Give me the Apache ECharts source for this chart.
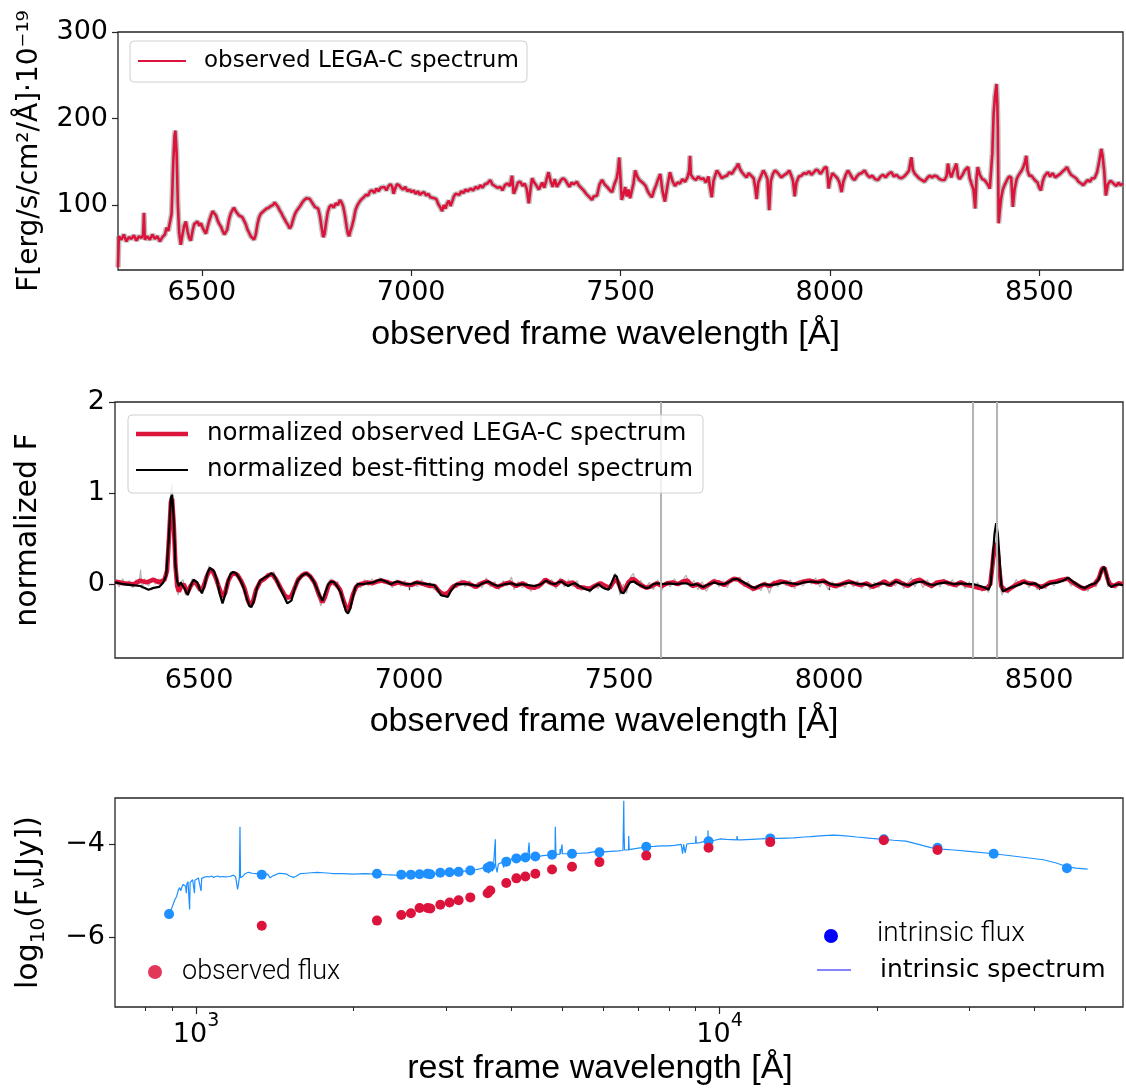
<!DOCTYPE html>
<html><head><meta charset="utf-8">
<script src="https://cdn.jsdelivr.net/npm/echarts@6/dist/echarts.min.js"></script>
<style>html,body{margin:0;padding:0;background:#fff}#c{width:1126px;height:1092px}</style>
</head><body><div id="c"></div>
<script>
// ---------- Panel 1: observed spectrum [wavelength Å, flux 1e-19 erg/s/cm2/Å] ----------
const obsSpectrum = [[6300,28],[6302,64],[6308,60],[6314,66],[6320,58],[6326,63],[6332,61],[6338,65],[6344,59],[6350,64],[6356,62],[6360,66],[6362,91],[6364,60],[6370,64],[6376,60],[6382,66],[6388,61],[6394,64],[6400,58],[6406,63],[6412,66],[6416,74],[6420,70],[6424,72],
[6428,90],[6432,150],[6435,180],[6437,186],[6440,160],[6443,100],[6446,68],[6450,54],[6454,66],[6458,76],[6462,81],[6466,70],[6470,62],[6474,59],[6478,70],[6482,78],[6486,76],[6490,81],[6494,76],[6498,79],[6502,74],[6506,70],[6510,67],[6514,75],[6518,82],[6522,88],[6526,93],[6530,95],[6534,88],[6538,82],[6542,78],[6546,75],[6550,70],[6554,66],[6557,64],[6561,72],[6565,83],[6569,90],[6573,94],[6577,97],[6581,93],[6585,91],[6589,88],[6593,90],[6597,86],[6601,82],[6605,78],[6609,72],[6613,68],[6617,64],[6621,62],[6625,60],[6629,66],[6633,78],[6637,86],[6641,90],[6645,92],[6650,94],[6655,96],[6660,97],[6665,99],[6670,100],[6674,103],[6678,101],[6682,98],[6686,94],[6690,91],[6694,87],[6698,85],[6702,80],[6706,77],[6710,73],[6714,76],[6718,83],[6722,89],[6726,93],[6730,95],[6735,99],[6740,103],[6745,106],[6750,108],[6754,106],[6758,107],[6762,104],[6766,101],[6770,98],[6774,100],[6778,96],[6782,88],[6786,75],[6790,63],[6793,66],[6797,80],[6801,92],[6805,98],[6810,100],[6815,97],[6820,102],[6825,100],[6830,106],[6834,103],[6838,98],[6842,88],[6846,75],[6849,67],[6852,64],[6855,70],[6859,76],[6863,84],[6867,94],[6872,100],[6877,104],[6882,107],[6887,109],[6892,112],[6897,111],[6902,116],[6907,117],[6912,114],[6917,119],[6922,116],[6927,120],[6931,119],[6936,121],[6941,117],[6946,122],[6951,124],[6955,121],[6958,113],[6961,118],[6966,124],[6971,123],[6976,120],[6981,118],[6986,121],[6991,116],[6996,118],[7001,115],[7006,117],[7011,113],[7016,116],[7021,112],[7026,114],[7031,115],[7036,111],[7041,113],[7046,109],[7050,111],[7055,108],[7060,107],[7065,101],[7070,97],[7074,93],[7078,100],[7082,96],[7086,102],[7090,105],[7094,99],[7098,104],[7102,110],[7106,113],[7110,115],[7115,112],[7120,116],[7125,114],[7130,118],[7135,116],[7142,119],[7148,117],[7154,121],[7160,119],[7165,123],[7170,120],[7176,124],[7182,125],[7189,129],[7194,124],[7200,122],[7206,120],[7213,121],[7218,117],[7224,123],[7230,125],[7236,122],[7241,134],[7245,113],[7250,119],[7255,126],[7261,127],[7266,122],[7271,125],[7276,119],[7281,102],[7285,118],[7289,131],[7294,126],[7300,122],[7305,118],[7308,121],[7313,126],[7318,120],[7323,129],[7328,138],[7333,128],[7338,121],[7343,130],[7348,121],[7353,125],[7358,129],[7363,131],[7368,129],[7373,125],[7378,121],[7383,126],[7388,124],[7396,127],[7400,123],[7406,120],[7412,117],[7418,113],[7424,110],[7428,108],[7432,106],[7436,110],[7440,109],[7444,111],[7450,124],[7456,129],[7462,124],[7468,121],[7475,117],[7480,115],[7486,125],[7491,131],[7494,140],[7497,155],[7500,130],[7503,106],[7507,112],[7511,121],[7515,110],[7519,118],[7523,108],[7527,106],[7531,125],[7535,140],[7540,133],[7545,129],[7550,127],[7555,125],[7560,122],[7565,116],[7570,112],[7575,109],[7580,117],[7585,123],[7590,130],[7595,136],[7600,117],[7606,104],[7612,122],[7618,138],[7624,128],[7630,122],[7636,126],[7642,125],[7648,130],[7654,127],[7660,132],[7664,140],[7666,157],[7668,135],[7674,131],[7680,129],[7686,133],[7692,130],[7698,131],[7704,126],[7710,133],[7714,120],[7718,109],[7722,128],[7726,134],[7730,140],[7736,136],[7742,131],[7748,133],[7754,134],[7760,138],[7766,136],[7772,141],[7777,144],[7781,148],[7785,142],[7790,138],[7795,135],[7801,132],[7806,137],[7812,134],[7818,131],[7822,120],[7825,107],[7829,126],[7835,133],[7841,140],[7846,136],[7851,130],[7855,94],[7859,128],[7864,136],[7869,140],[7874,138],[7879,135],[7884,132],[7889,134],[7893,132],[7898,137],[7903,140],[7908,134],[7912,128],[7916,110],[7920,126],[7926,133],[7932,134],[7938,137],[7944,136],[7950,139],[7956,135],[7962,138],[7967,141],[7972,140],[7977,136],[7982,139],[7987,143],[7992,144],[7995,132],[7997,119],[8000,128],[8006,137],[8012,134],[8018,131],[8023,126],[8028,115],[8032,127],[8038,135],[8043,140],[8048,136],[8054,131],[8059,129],[8064,133],[8070,136],[8076,137],[8083,140],[8089,135],[8095,132],[8101,134],[8108,130],[8115,129],[8121,133],[8127,135],[8133,132],[8140,136],[8147,138],[8153,133],[8159,135],[8165,132],[8171,131],[8177,133],[8183,136],[8189,140],[8193,152],[8195,155],[8198,141],[8203,136],[8207,134],[8213,131],[8219,129],[8226,127],[8232,131],[8238,134],[8244,132],[8250,134],[8256,133],[8262,130],[8268,129],[8274,129],[8279,134],[8282,148],[8286,137],[8290,132],[8294,138],[8298,140],[8302,148],[8306,133],[8310,130],[8314,129],[8318,136],[8322,140],[8326,138],[8330,144],[8334,131],[8338,125],[8343,118],[8347,96],[8350,130],[8353,144],[8358,135],[8364,130],[8369,129],[8374,126],[8378,123],[8382,119],[8385,121],[8388,160],[8391,205],[8394,225],[8398,240],[8400,215],[8401,190],[8403,79],[8406,95],[8409,108],[8413,118],[8418,124],[8423,129],[8428,133],[8433,132],[8437,98],[8441,118],[8446,130],[8450,134],[8453,136],[8458,140],[8462,144],[8466,150],[8469,157],[8472,140],[8476,134],[8481,134],[8486,131],[8491,128],[8496,126],[8500,120],[8504,117],[8508,127],[8512,133],[8516,135],[8520,138],[8526,133],[8532,137],[8538,132],[8544,134],[8550,136],[8556,139],[8561,141],[8566,144],[8571,139],[8576,135],[8582,133],[8588,131],[8594,127],[8600,125],[8605,123],[8610,126],[8616,129],[8621,127],[8626,131],[8632,131],[8638,138],[8643,150],[8648,165],[8651,158],[8655,140],[8659,111],[8664,124],[8670,128],[8675,126],[8679,127],[8684,122],[8689,126],[8694,123],[8700,125]];

// ---------- Panel 2: normalized spectra ----------
const normModel = [[6300,0.02],[6320,0.0],[6340,-0.01],[6360,-0.02],[6380,-0.06],[6392,-0.04],[6405,-0.03],[6415,0.02],[6422,0.1],[6428,0.5],[6433,0.95],[6436,0.98],[6440,0.7],[6444,0.2],[6448,0.03],[6452,-0.02],[6456,0.02],[6460,0.03],[6466,-0.05],[6473,-0.12],[6480,-0.02],[6487,0.05],[6491,0.07],[6496,0.02],[6502,-0.06],[6507,-0.1],[6513,-0.02],[6520,0.12],[6526,0.18],[6530,0.19],[6536,0.14],[6543,0.04],[6549,-0.1],[6556,-0.21],[6562,-0.12],[6568,0.02],[6575,0.11],[6581,0.135],[6588,0.12],[6594,0.08],[6600,0.03],[6607,-0.05],[6614,-0.16],[6620,-0.24],[6625,-0.25],[6631,-0.18],[6638,-0.04],[6646,0.04],[6655,0.07],[6664,0.09],[6672,0.12],[6678,0.1],[6685,0.04],[6694,-0.05],[6702,-0.13],[6710,-0.21],[6714,-0.23],[6720,-0.18],[6727,-0.06],[6734,0.03],[6742,0.08],[6750,0.11],[6756,0.12],[6764,0.09],[6772,0.04],[6780,-0.04],[6788,-0.13],[6794,-0.18],[6800,-0.1],[6808,0.0],[6814,0.03],[6822,0.02],[6830,-0.03],[6838,-0.1],[6845,-0.22],[6850,-0.3],[6855,-0.32],[6860,-0.27],[6866,-0.15],[6872,-0.04],[6878,0.0],[6890,0.0],[6901,0.01],[6915,0.02],[6925,0.04],[6933,0.05],[6945,0.03],[6957,0.0],[6965,0.02],[6973,0.03],[6985,0.01],[6995,0.0],[7005,0.0],[7017,0.02],[7029,0.01],[7045,0.0],[7060,-0.01],[7068,-0.06],[7076,-0.12],[7084,-0.13],[7092,-0.14],[7100,-0.07],[7112,0.0],[7126,0.0],[7140,0.0],[7152,-0.01],[7164,-0.02],[7176,0.01],[7188,0.03],[7200,0.0],[7212,-0.02],[7228,0.0],[7244,0.01],[7256,-0.01],[7268,0.0],[7284,-0.01],[7300,-0.02],[7314,0.0],[7327,0.04],[7337,0.01],[7347,0.0],[7355,0.02],[7363,0.03],[7371,0.0],[7379,-0.02],[7387,0.0],[7395,0.01],[7405,-0.02],[7418,-0.05],[7431,-0.07],[7440,-0.03],[7451,0.0],[7459,-0.03],[7467,-0.05],[7475,-0.06],[7483,0.02],[7490,0.1],[7495,0.08],[7500,-0.02],[7505,-0.09],[7511,-0.1],[7518,-0.04],[7526,0.02],[7535,0.03],[7545,0.0],[7555,-0.02],[7563,-0.04],[7571,-0.04],[7581,0.0],[7591,0.01],[7605,0.0],[7620,0.01],[7635,0.0],[7650,0.01],[7660,0.01],[7672,-0.01],[7685,0.0],[7700,-0.03],[7714,0.0],[7728,0.02],[7738,0.0],[7749,0.0],[7760,0.02],[7770,0.05],[7781,0.06],[7793,0.03],[7805,0.0],[7815,-0.03],[7825,-0.04],[7835,-0.01],[7845,0.0],[7860,-0.01],[7877,0.0],[7893,0.02],[7910,0.01],[7925,0.0],[7940,0.02],[7958,0.03],[7974,0.02],[7990,0.03],[8005,0.0],[8022,-0.01],[8038,0.01],[8055,0.02],[8070,0.0],[8087,0.0],[8100,-0.02],[8112,0.0],[8127,0.01],[8143,-0.01],[8159,0.03],[8175,0.0],[8192,-0.01],[8208,0.02],[8224,0.03],[8236,0.0],[8248,-0.01],[8264,0.01],[8280,0.02],[8296,0.0],[8313,0.01],[8330,0.0],[8345,0.0],[8360,-0.02],[8372,-0.04],[8380,-0.06],[8385,0.0],[8390,0.3],[8394,0.55],[8398,0.67],[8402,0.55],[8406,0.3],[8410,0.0],[8414,-0.08],[8418,-0.1],[8426,-0.05],[8437,-0.03],[8450,-0.01],[8465,0.02],[8478,0.0],[8490,0.01],[8500,-0.02],[8506,-0.04],[8516,-0.01],[8530,0.01],[8545,0.02],[8558,0.04],[8570,0.07],[8580,0.03],[8590,0.0],[8600,-0.03],[8610,-0.04],[8620,-0.01],[8634,0.01],[8642,0.05],[8649,0.15],[8655,0.19],[8661,0.1],[8666,0.0],[8672,-0.03],[8680,-0.01],[8690,0.0],[8700,-0.01]];

const normObs = [[6300,0.03],[6320,0.01],[6345,0.0],[6360,0.04],[6375,0.02],[6392,0.05],[6405,0.02],[6418,0.05],[6424,0.15],[6429,0.55],[6433,0.9],[6436,0.94],[6440,0.65],[6444,0.2],[6448,-0.02],[6452,-0.08],[6458,-0.02],[6464,0.0],[6472,-0.1],[6480,-0.02],[6488,0.03],[6495,0.0],[6503,-0.06],[6510,-0.04],[6518,0.08],[6526,0.16],[6532,0.15],[6540,0.07],[6548,-0.04],[6556,-0.14],[6562,-0.1],[6570,0.04],[6578,0.11],[6584,0.12],[6592,0.1],[6600,0.04],[6608,-0.04],[6616,-0.17],[6622,-0.23],[6628,-0.2],[6636,-0.06],[6646,0.03],[6656,0.06],[6666,0.1],[6674,0.11],[6684,0.05],[6694,-0.04],[6704,-0.12],[6712,-0.15],[6720,-0.13],[6728,-0.04],[6736,0.05],[6746,0.1],[6756,0.12],[6766,0.08],[6776,0.01],[6786,-0.12],[6794,-0.2],[6800,-0.14],[6808,-0.02],[6816,0.03],[6826,0.0],[6836,-0.06],[6844,-0.18],[6852,-0.28],[6858,-0.26],[6866,-0.12],[6874,-0.03],[6884,0.0],[6900,0.02],[6912,0.01],[6924,0.03],[6936,0.04],[6950,0.02],[6962,0.0],[6975,0.02],[6990,0.0],[7005,-0.01],[7020,0.02],[7035,0.0],[7050,-0.02],[7062,-0.02],[7070,-0.07],[7078,-0.1],[7086,-0.11],[7094,-0.09],[7104,-0.03],[7116,0.0],[7130,0.02],[7145,0.0],[7160,-0.03],[7172,0.01],[7185,0.03],[7198,0.0],[7210,-0.03],[7225,0.0],[7240,0.02],[7255,-0.02],[7270,0.01],[7285,-0.03],[7298,-0.04],[7312,-0.01],[7325,0.05],[7335,0.02],[7350,-0.01],[7362,0.04],[7375,0.0],[7390,0.02],[7402,-0.03],[7418,-0.04],[7430,-0.05],[7442,-0.02],[7455,0.01],[7468,-0.02],[7478,-0.04],[7486,0.02],[7492,0.06],[7498,0.02],[7506,-0.07],[7514,-0.06],[7522,0.02],[7532,0.06],[7540,0.04],[7552,-0.01],[7565,-0.04],[7578,-0.02],[7590,0.01],[7602,-0.02],[7615,0.01],[7628,0.02],[7640,0.0],[7652,0.03],[7663,0.04],[7675,-0.02],[7688,0.0],[7700,-0.04],[7712,-0.01],[7725,0.03],[7738,0.02],[7750,-0.01],[7762,0.03],[7774,0.06],[7784,0.05],[7796,0.01],[7808,-0.02],[7820,-0.05],[7832,-0.03],[7845,0.0],[7858,-0.02],[7870,0.01],[7884,0.03],[7898,0.02],[7912,-0.01],[7926,0.01],[7940,0.03],[7955,0.04],[7970,0.02],[7985,0.04],[8000,0.0],[8014,-0.02],[8030,0.0],[8046,0.03],[8060,0.01],[8075,-0.01],[8090,0.01],[8104,-0.03],[8118,0.0],[8132,0.03],[8146,-0.01],[8160,0.04],[8174,0.01],[8188,-0.02],[8202,0.03],[8216,0.05],[8230,0.01],[8244,-0.02],[8258,0.02],[8272,0.03],[8286,0.01],[8300,-0.01],[8314,0.02],[8328,-0.01],[8342,-0.02],[8356,-0.04],[8368,-0.05],[8377,-0.04],[8384,0.0],[8389,0.2],[8393,0.38],[8397,0.45],[8401,0.38],[8405,0.18],[8410,-0.02],[8416,-0.06],[8424,-0.07],[8434,-0.04],[8448,0.0],[8462,0.03],[8476,0.01],[8490,0.0],[8502,-0.03],[8512,-0.02],[8526,0.02],[8540,0.03],[8556,0.05],[8568,0.06],[8580,0.02],[8594,-0.02],[8606,-0.05],[8618,-0.03],[8632,0.0],[8642,0.06],[8650,0.17],[8656,0.18],[8662,0.08],[8668,0.0],[8678,-0.02],[8690,0.01],[8700,0.0]];

const normRaw = [[6300,0.05],[6310,-0.03],[6318,0.06],[6326,-0.01],[6334,0.04],[6342,-0.04],[6350,0.05],[6357,0.0],[6361,0.16],[6364,-0.05],[6371,0.06],[6380,-0.02],[6388,0.07],[6396,0.0],[6404,0.06],[6412,-0.01],[6420,0.12],[6426,0.4],[6431,0.9],[6435,1.1],[6438,0.95],[6442,0.45],[6446,0.05],[6450,-0.12],[6456,0.02],[6462,0.05],[6468,-0.12],[6476,-0.04],[6484,0.06],[6492,-0.02],[6500,-0.08],[6508,0.0],[6516,0.05],[6524,0.2],[6530,0.13],[6538,0.09],[6546,-0.08],[6554,-0.17],[6560,-0.06],[6568,0.06],[6576,0.14],[6583,0.09],[6590,0.13],[6598,0.02],[6606,-0.02],[6614,-0.2],[6622,-0.26],[6630,-0.15],[6638,-0.02],[6646,0.06],[6654,0.03],[6662,0.12],[6670,0.08],[6678,0.14],[6686,0.02],[6694,-0.07],[6702,-0.1],[6710,-0.18],[6718,-0.1],[6726,-0.07],[6734,0.08],[6742,0.06],[6750,0.14],[6758,0.1],[6766,0.11],[6774,-0.02],[6782,-0.1],[6790,-0.24],[6798,-0.11],[6806,0.01],[6814,0.06],[6822,-0.02],[6830,0.03],[6838,-0.1],[6846,-0.22],[6852,-0.32],[6860,-0.22],[6868,-0.08],[6876,0.02],[6885,-0.04],[6894,0.05],[6903,-0.02],[6912,0.06],[6921,0.0],[6930,0.07],[6940,0.01],[6950,0.05],[6960,-0.04],[6970,0.05],[6980,-0.02],[6990,0.04],[7000,-0.04],[7010,0.03],[7020,-0.03],[7030,0.05],[7040,-0.03],[7050,0.02],[7060,-0.06],[7070,-0.04],[7080,-0.14],[7088,-0.08],[7096,-0.13],[7104,0.0],[7114,-0.04],[7124,0.05],[7134,-0.03],[7144,0.04],[7154,-0.05],[7164,0.02],[7174,-0.04],[7184,0.07],[7194,-0.03],[7204,0.03],[7214,-0.06],[7224,0.04],[7234,-0.02],[7244,0.08],[7250,-0.06],[7260,0.03],[7270,-0.04],[7280,0.02],[7290,-0.08],[7300,0.0],[7310,-0.05],[7320,0.06],[7330,0.0],[7340,0.05],[7350,-0.05],[7360,0.07],[7370,-0.03],[7380,0.05],[7390,-0.03],[7400,0.04],[7410,-0.07],[7420,-0.02],[7430,-0.09],[7440,0.0],[7450,-0.05],[7460,0.03],[7470,-0.06],[7480,-0.01],[7490,0.12],[7496,0.08],[7502,-0.12],[7510,0.0],[7518,-0.1],[7526,0.07],[7534,0.12],[7542,0.0],[7552,0.04],[7562,-0.05],[7572,0.02],[7582,-0.06],[7592,0.05],[7602,-0.07],[7612,0.03],[7622,-0.03],[7632,0.06],[7642,-0.02],[7652,0.05],[7660,0.1],[7668,-0.03],[7678,0.04],[7688,-0.06],[7698,0.03],[7708,-0.08],[7718,0.02],[7728,0.06],[7738,-0.03],[7748,0.04],[7758,-0.04],[7768,0.07],[7778,0.03],[7788,0.08],[7798,-0.03],[7808,0.03],[7818,-0.08],[7828,-0.02],[7838,-0.07],[7848,0.03],[7858,-0.1],[7868,0.04],[7878,-0.03],[7888,0.05],[7898,-0.02],[7908,0.05],[7918,-0.05],[7928,0.04],[7938,-0.02],[7948,0.06],[7958,0.0],[7968,0.07],[7978,-0.03],[7988,0.06],[7998,-0.06],[8008,0.03],[8018,-0.05],[8028,0.02],[8038,-0.04],[8048,0.05],[8058,-0.03],[8068,0.04],[8078,-0.05],[8088,0.03],[8098,-0.06],[8108,0.02],[8118,-0.04],[8128,0.05],[8138,-0.03],[8148,0.04],[8158,-0.02],[8168,0.06],[8178,-0.05],[8188,0.02],[8196,0.07],[8204,-0.03],[8214,0.06],[8224,-0.04],[8234,0.05],[8244,-0.05],[8254,0.04],[8264,-0.03],[8274,0.06],[8284,-0.02],[8294,0.05],[8304,-0.04],[8314,0.04],[8324,-0.05],[8334,0.03],[8344,-0.06],[8354,0.02],[8364,-0.08],[8372,-0.02],[8380,-0.09],[8386,0.1],[8391,0.35],[8396,0.48],[8401,0.3],[8406,0.0],[8412,-0.12],[8418,-0.02],[8426,-0.1],[8436,-0.03],[8446,0.05],[8456,-0.02],[8466,0.06],[8476,-0.04],[8486,0.03],[8496,-0.06],[8506,0.0],[8516,-0.05],[8526,0.04],[8536,-0.02],[8546,0.06],[8556,0.02],[8566,0.08],[8576,-0.02],[8586,0.03],[8596,-0.05],[8606,-0.02],[8616,-0.08],[8626,0.02],[8636,-0.03],[8644,0.08],[8650,0.2],[8656,0.15],[8664,-0.03],[8672,0.03],[8682,-0.05],[8692,0.02],[8700,-0.02]];

const telluricLines = [7600, 8343, 8400];

// ---------- Panel 3: SED [rest wavelength Å, log10 F_nu (Jy)] ----------
const intrinsicSpectrum = [[888,-5.5],[900,-5.35],[910,-5.2],[918,-5.12],[925,-4.98],[930,-4.93],[935,-5.0],[939,-4.92],[945,-4.86],[950,-4.85],[955,-4.9],[958,-5.05],[960,-4.85],[965,-4.8],[970,-4.83],[972,-5.4],[974,-4.82],[980,-4.8],[985,-4.76],[990,-4.79],[993,-5.05],[995,-4.77],[1000,-4.74],[1010,-4.72],[1018,-4.72],[1022,-5.0],[1025,-4.73],[1035,-4.71],[1048,-4.69],[1060,-4.7],[1070,-4.68],[1080,-4.71],[1090,-4.69],[1100,-4.68],[1110,-4.7],[1128,-4.69],[1140,-4.7],[1150,-4.67],[1160,-4.69],[1170,-4.66],[1179,-4.66],[1190,-4.7],[1196,-4.85],[1200,-4.97],[1205,-4.86],[1210,-4.7],[1213,-3.62],[1216,-4.72],[1222,-4.74],[1230,-4.68],[1240,-4.63],[1259,-4.6],[1280,-4.62],[1300,-4.63],[1320,-4.62],[1335,-4.65],[1350,-4.66],[1370,-4.64],[1385,-4.72],[1391,-4.76],[1400,-4.68],[1420,-4.65],[1440,-4.62],[1468,-4.63],[1490,-4.64],[1510,-4.68],[1535,-4.71],[1550,-4.69],[1581,-4.63],[1620,-4.62],[1660,-4.61],[1701,-4.6],[1750,-4.61],[1800,-4.62],[1830,-4.63],[1900,-4.63],[2000,-4.64],[2100,-4.63],[2216,-4.64],[2300,-4.65],[2400,-4.66],[2456,-4.67],[2550,-4.66],[2650,-4.65],[2750,-4.65],[2844,-4.64],[2950,-4.62],[3050,-4.6],[3150,-4.59],[3295,-4.57],[3400,-4.55],[3500,-4.52],[3543,-4.5],[3580,-4.53],[3626,-4.62],[3650,-4.48],[3680,-4.58],[3700,-4.46],[3728,-4.45],[3730,-3.89],[3735,-4.45],[3760,-4.6],[3780,-4.42],[3811,-4.45],[3850,-4.38],[3870,-4.5],[3890,-4.36],[3914,-4.35],[3950,-4.33],[3970,-4.42],[4000,-4.31],[4050,-4.3],[4100,-4.29],[4200,-4.29],[4300,-4.28],[4327,-3.96],[4340,-4.28],[4415,-4.28],[4500,-4.26],[4600,-4.24],[4700,-4.23],[4787,-4.22],[4850,-4.22],[4856,-3.62],[4870,-4.22],[4955,-4.21],[4959,-4.1],[4965,-4.21],[5003,-4.0],[5010,-4.2],[5100,-4.2],[5270,-4.2],[5400,-4.19],[5600,-4.18],[5814,-4.15],[5910,-4.17],[6000,-4.16],[6200,-4.15],[6400,-4.14],[6540,-4.13],[6563,-3.06],[6570,-3.7],[6585,-4.12],[6700,-4.12],[6707,-3.82],[6720,-4.11],[6900,-4.09],[7100,-4.07],[7245,-4.05],[7500,-4.04],[7750,-4.03],[7963,-4.03],[8200,-4.02],[8450,-4.0],[8500,-4.2],[8542,-4.0],[8600,-4.18],[8662,-3.99],[8800,-3.98],[9000,-3.97],[9013,-3.82],[9030,-3.97],[9200,-3.96],[9304,-3.94],[9500,-3.93],[9505,-3.7],[9520,-3.93],[9788,-3.91],[10050,-3.88],[10100,-3.87],[10300,-3.89],[10790,-3.9],[10800,-3.82],[10830,-3.9],[11000,-3.9],[11500,-3.89],[12000,-3.88],[12500,-3.87],[13000,-3.87],[13840,-3.86],[14500,-3.84],[14950,-3.83],[15800,-3.81],[16520,-3.8],[17200,-3.81],[18300,-3.84],[19500,-3.87],[20600,-3.89],[21500,-3.91],[22700,-3.93],[24000,-4.0],[25340,-4.07],[26500,-4.1],[28020,-4.12],[30000,-4.15],[33400,-4.2],[37000,-4.26],[41550,-4.33],[44000,-4.4],[46100,-4.48],[48000,-4.51],[50500,-4.53]];

const intrinsicFlux = [[888,-5.5],[1335,-4.65],[2216,-4.63],[2466,-4.65],[2573,-4.65],[2673,-4.64],[2769,-4.63],[2802,-4.64],[2928,-4.61],[3050,-4.6],[3174,-4.59],[3341,-4.56],[3606,-4.5],[3648,-4.47],[3914,-4.37],[4092,-4.3],[4257,-4.28],[4448,-4.26],[4787,-4.22],[5226,-4.2],[5897,-4.17],[7245,-4.05],[9529,-3.93],[12500,-3.87],[20600,-3.89],[26090,-4.07],[33400,-4.2],[46100,-4.51]];

const observedFlux = [[1335,-5.75],[2216,-5.64],[2466,-5.52],[2573,-5.48],[2673,-5.37],[2769,-5.37],[2802,-5.38],[2928,-5.3],[3050,-5.25],[3174,-5.2],[3341,-5.14],[3606,-5.05],[3648,-4.99],[3914,-4.83],[4092,-4.73],[4257,-4.69],[4448,-4.63],[4787,-4.54],[5226,-4.48],[5897,-4.38],[7245,-4.24],[9529,-4.07],[12500,-3.95],[20600,-3.91],[26090,-4.12]];

// ---------- Tick values ----------
const obsWaveTicks = [6500, 7000, 7500, 8000, 8500];
const fluxTicks = [100, 200, 300];
const normTicks = [0, 1, 2];
const sedYTicks = [-6, -4];
const restMajorTicks = [1000, 10000];
const restMinorTicks = [800, 900, 2000, 3000, 4000, 5000, 6000, 7000, 8000, 9000, 20000, 30000, 40000, 50000];

// ---------- Build chart ----------
const FONT = 'DejaVu Sans';
const LFONT = 'Liberation Sans';
const AX = '#262626';
const lg = v => Math.log10(v);
const toLog = arr => arr.map(p => [lg(p[0]), p[1]]);
const minus = v => (v < 0 ? '\u2212' + Math.abs(v) : String(v));

function xAxisCfg(gridIndex, ticks, name, gap) {
  return {
    gridIndex, type: 'value', min: 6300, max: 8700,
    axisLine: {show: false},
    axisTick: {show: true, customValues: ticks, length: 6, lineStyle: {color: AX, width: 1.2}},
    axisLabel: {customValues: ticks, fontSize: 27, fontFamily: FONT, color: '#000', margin: 9, formatter: v => String(v)},
    splitLine: {show: false},
    name, nameLocation: 'middle', nameGap: gap,
    nameTextStyle: {fontSize: 34, fontFamily: LFONT, color: '#000', padding: [0, 30, 0, 0]}
  };
}
function yAxisCfg(gridIndex, min, max, ticks, name, gap, nameStyle) {
  return {
    gridIndex, type: 'value', min, max,
    axisLine: {show: false},
    axisTick: {show: true, customValues: ticks, length: 6, lineStyle: {color: AX, width: 1.2}},
    axisLabel: {customValues: ticks, fontSize: 27, fontFamily: FONT, color: '#000', margin: 10, formatter: minus},
    splitLine: {show: false},
    name, nameLocation: 'middle', nameGap: gap,
    nameTextStyle: Object.assign({fontSize: 29, fontFamily: FONT, color: '#000'}, nameStyle || {})
  };
}
const gridStyle = {show: true, borderColor: AX, borderWidth: 1.3, backgroundColor: 'transparent'};

const option = {
  animation: false,
  backgroundColor: '#fff',
  grid: [
    Object.assign({left: 118, top: 32, right: 3, height: 238}, gridStyle),
    Object.assign({left: 115, top: 402, right: 3, height: 256}, gridStyle),
    Object.assign({left: 115, top: 798, right: 3, height: 209}, gridStyle)
  ],
  xAxis: [
    xAxisCfg(0, obsWaveTicks, 'observed frame wavelength [\u00c5]', 48),
    xAxisCfg(1, obsWaveTicks, 'observed frame wavelength [\u00c5]', 47),
    {
      gridIndex: 2, type: 'value', min: lg(700), max: lg(59000),
      axisLine: {show: false},
      axisTick: {show: true, customValues: restMajorTicks.map(lg), length: 7, lineStyle: {color: AX, width: 1.2}},
      axisLabel: {customValues: restMajorTicks.map(lg), margin: 5, color: '#000',
        formatter: v => '{b|10}{s|' + Math.round(v) + '}',
        rich: {b: {fontSize: 27, fontFamily: FONT, color: '#000', lineHeight: 36, verticalAlign: 'bottom'},
               s: {fontSize: 19, fontFamily: FONT, color: '#000', lineHeight: 16, verticalAlign: 'top'}}},
      splitLine: {show: false},
      name: 'rest frame wavelength [\u00c5]', nameLocation: 'middle', nameGap: 45,
      nameTextStyle: {fontSize: 34, fontFamily: LFONT, color: '#000', padding: [0, 38, 0, 0]}
    },
    {
      gridIndex: 2, type: 'value', min: lg(700), max: lg(59000), position: 'bottom',
      axisLine: {show: false},
      axisTick: {show: true, customValues: restMinorTicks.map(lg), length: 4, lineStyle: {color: AX, width: 1}},
      axisLabel: {show: false}, splitLine: {show: false}
    }
  ],
  yAxis: [
    yAxisCfg(0, 25, 300, fluxTicks, 'F[erg/s/cm\u00b2/\u00c5]\u00b710\u207b\u00b9\u2079', 74, {fontSize: 28}),
    yAxisCfg(1, -0.81, 2, normTicks, 'normalized F', 72, {fontSize: 30}),
    Object.assign(yAxisCfg(2, -7.5, -3, sedYTicks, '{n|log}{sub|10}{n|(F}{sub|\u03bd}{n|[Jy])}', 66), {
      nameTextStyle: {color: '#000', rich: {
        n: {fontSize: 30, fontFamily: FONT, color: '#000', lineHeight: 40},
        sub: {fontSize: 20, fontFamily: FONT, color: '#000', lineHeight: 22, verticalAlign: 'bottom'}}}
    })
  ],
  series: [
    {type: 'line', xAxisIndex: 0, yAxisIndex: 0, data: obsSpectrum, symbol: 'none', silent: true, clip: true,
     lineStyle: {color: 'rgba(140,140,140,0.55)', width: 5.5}, z: 2},
    {name: 'observed LEGA-C spectrum', type: 'line', xAxisIndex: 0, yAxisIndex: 0, data: obsSpectrum, symbol: 'none', silent: true, clip: true,
     lineStyle: {color: '#DC143C', width: 2.6}, z: 3},
    {type: 'line', xAxisIndex: 1, yAxisIndex: 1, data: normRaw, symbol: 'none', silent: true, clip: true,
     lineStyle: {color: 'rgba(150,150,150,0.7)', width: 1.2}, z: 2,
     markLine: {silent: true, symbol: ['none', 'none'], label: {show: false},
       lineStyle: {color: '#b4b4b4', width: 2, type: 'solid'},
       data: telluricLines.map(v => ({xAxis: v}))}},
    {name: 'normalized observed LEGA-C spectrum', type: 'line', xAxisIndex: 1, yAxisIndex: 1, data: normObs, symbol: 'none', silent: true, clip: true,
     lineStyle: {color: '#DC143C', width: 4.5}, z: 3},
    {name: 'normalized best-fitting model spectrum', type: 'line', xAxisIndex: 1, yAxisIndex: 1, data: normModel, symbol: 'none', silent: true, clip: true,
     lineStyle: {color: '#000', width: 2.2}, z: 4},
    {name: 'intrinsic spectrum', type: 'line', xAxisIndex: 2, yAxisIndex: 2, data: toLog(intrinsicSpectrum), symbol: 'none', silent: true, clip: true,
     lineStyle: {color: '#1E90FF', width: 1.2}, z: 2},
    {name: 'intrinsic flux', type: 'scatter', xAxisIndex: 2, yAxisIndex: 2, data: toLog(intrinsicFlux), symbolSize: 10, silent: true,
     itemStyle: {color: '#1E90FF', opacity: 1}, z: 3},
    {name: 'observed flux', type: 'scatter', xAxisIndex: 2, yAxisIndex: 2, data: toLog(observedFlux), symbolSize: 10, silent: true,
     itemStyle: {color: '#DC143C', opacity: 1}, z: 4}
  ],
  graphic: [
    // Panel 1 legend
    {type: 'rect', z: 100, shape: {x: 130, y: 41, width: 397, height: 41, r: 4}, style: {fill: 'rgba(255,255,255,0.8)', stroke: '#cfcfcf', lineWidth: 1}},
    {type: 'line', z: 101, shape: {x1: 138, y1: 61, x2: 186, y2: 61}, style: {stroke: '#DC143C', lineWidth: 2}},
    {type: 'text', z: 101, x: 204, y: 61, style: {text: 'observed LEGA-C spectrum', font: '23px "DejaVu Sans"', fill: '#000', verticalAlign: 'middle'}},
    // Panel 2 legend
    {type: 'rect', z: 100, shape: {x: 128, y: 415, width: 575, height: 78, r: 4}, style: {fill: 'rgba(255,255,255,0.8)', stroke: '#cfcfcf', lineWidth: 1}},
    {type: 'line', z: 101, shape: {x1: 136, y1: 434, x2: 188, y2: 434}, style: {stroke: '#DC143C', lineWidth: 4.5}},
    {type: 'line', z: 101, shape: {x1: 136, y1: 470, x2: 188, y2: 470}, style: {stroke: '#000', lineWidth: 2.2}},
    {type: 'text', z: 101, x: 207, y: 434, style: {text: 'normalized observed LEGA-C spectrum', font: '24.5px "DejaVu Sans"', fill: '#000', verticalAlign: 'middle'}},
    {type: 'text', z: 101, x: 207, y: 470, style: {text: 'normalized best-fitting model spectrum', font: '24.5px "DejaVu Sans"', fill: '#000', verticalAlign: 'middle'}},
    // Panel 3 legends
    {type: 'circle', z: 101, shape: {cx: 155, cy: 972, r: 7}, style: {fill: 'rgba(220,20,60,0.85)'}},
    {type: 'text', z: 101, x: 182, y: 972, style: {text: 'observed flux', font: '300 27px Roboto', fill: '#000', verticalAlign: 'middle'}},
    {type: 'circle', z: 101, shape: {cx: 831, cy: 936, r: 7}, style: {fill: '#0000FF'}},
    {type: 'text', z: 101, x: 877, y: 934, style: {text: 'intrinsic flux', font: '300 28px Roboto', fill: '#000', verticalAlign: 'middle'}},
    {type: 'line', z: 101, shape: {x1: 817, y1: 970, x2: 851, y2: 970}, style: {stroke: '#5a5aff', lineWidth: 1.5}},
    {type: 'text', z: 101, x: 880, y: 970, style: {text: 'intrinsic spectrum', font: '25px "DejaVu Sans"', fill: '#000', verticalAlign: 'middle'}}
  ]
};

const chart = echarts.init(document.getElementById('c'), null, {renderer: 'canvas'});
chart.setOption(option);
</script>
</body></html>
